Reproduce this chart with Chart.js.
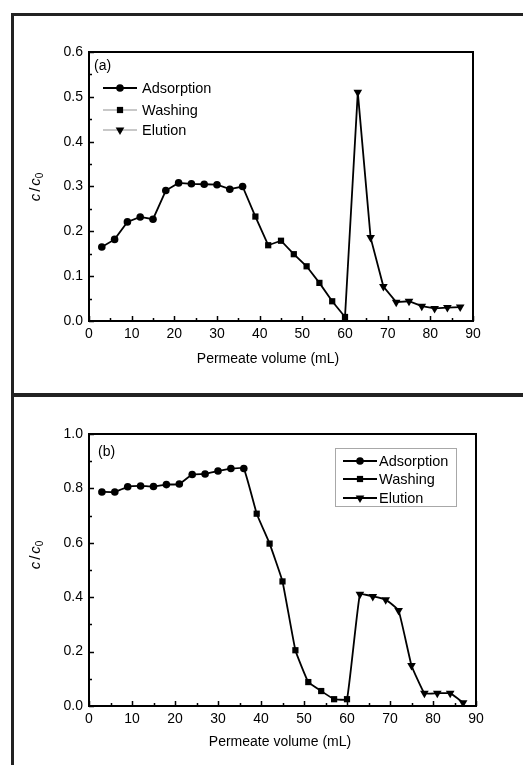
<!DOCTYPE html>
<html>
<head>
<meta charset="utf-8">
<script src="https://cdn.jsdelivr.net/npm/chart.js@4/dist/chart.umd.min.js"></script>
<style>
  body { margin: 0; background: #fff; }
  #page { position: relative; width: 523px; height: 765px; overflow: hidden; background: #fff; }
  canvas { position: absolute; left: 0; }
  .bd { position: absolute; background: #222; z-index: 2; }
</style>
</head>
<body>
<div id="page">
  <canvas id="chartA" width="523" height="393" style="top:0"></canvas>
  <canvas id="chartB" width="523" height="368" style="top:397px"></canvas>
  <div class="bd" style="left:11px;top:13px;width:3px;height:752px"></div>
  <div class="bd" style="left:11px;top:13px;width:512px;height:3px"></div>
  <div class="bd" style="left:11px;top:393px;width:512px;height:4px"></div>
</div>
<script>
// panel (a)
const adsXA = [3, 6, 9, 12, 15, 18, 21, 24, 27, 30, 33, 36];
const adsYA = [0.165, 0.182, 0.221, 0.232, 0.227, 0.291, 0.308, 0.306, 0.305, 0.304, 0.294, 0.300];
const washXA = [39, 42, 45, 48, 51, 54, 57, 60];
const washYA = [0.233, 0.169, 0.179, 0.149, 0.122, 0.085, 0.044, 0.009];
const eluXA = [63, 66, 69, 72, 75, 78, 81, 84, 87];
const eluYA = [0.510, 0.186, 0.077, 0.042, 0.044, 0.033, 0.028, 0.030, 0.031];

// panel (b)
const adsXB = [3, 6, 9, 12, 15, 18, 21, 24, 27, 30, 33, 36];
const adsYB = [0.787, 0.787, 0.806, 0.809, 0.807, 0.814, 0.816, 0.851, 0.853, 0.864, 0.873, 0.873];
const washXB = [39, 42, 45, 48, 51, 54, 57, 60];
const washYB = [0.707, 0.597, 0.458, 0.205, 0.088, 0.055, 0.025, 0.025];
const eluXB = [63, 66, 69, 72, 75, 78, 81, 84, 87];
const eluYB = [0.411, 0.403, 0.391, 0.351, 0.149, 0.047, 0.047, 0.047, 0.012];

const seriesNames = ['Adsorption', 'Washing', 'Elution'];
const xTicks = [0, 10, 20, 30, 40, 50, 60, 70, 80, 90];
const yTicksA = [0, 0.1, 0.2, 0.3, 0.4, 0.5, 0.6];
const yTicksB = [0, 0.2, 0.4, 0.6, 0.8, 1.0];

const FONT = '"Liberation Sans", Arial, sans-serif';
const markers = [
  {style: 'circle', r: 3.8, rot: 0},
  {style: 'rect', r: 4.4, rot: 0},
  {style: 'triangle', r: 5, rot: 180}
];

function buildData(xs, ys) {
  const pts = [], styles = [], radii = [], rots = [];
  xs.forEach((arr, k) => {
    arr.forEach((x, i) => {
      pts.push({x: x, y: ys[k][i]});
      styles.push(markers[k].style);
      radii.push(markers[k].r);
      rots.push(markers[k].rot);
    });
  });
  return {pts, styles, radii, rots};
}

function drawMarker(ctx, k, x, y) {
  const m = markers[k];
  ctx.beginPath();
  if (m.style === 'circle') {
    ctx.arc(x, y, m.r, 0, Math.PI * 2);
  } else if (m.style === 'rect') {
    const s = m.r * Math.SQRT1_2;
    ctx.rect(x - s, y - s, 2 * s, 2 * s);
  } else {
    const w = m.r * Math.sqrt(3) / 2;
    ctx.moveTo(x - w, y - m.r / 2);
    ctx.lineTo(x + w, y - m.r / 2);
    ctx.lineTo(x, y + m.r);
    ctx.closePath();
  }
  ctx.fill();
}

// frame, inward ticks, labels, titles and legend
const decor = {
  id: 'decor',
  afterDraw(chart, args, o) {
    const {ctx, chartArea: a, scales: {x, y}} = chart;
    ctx.save();
    ctx.strokeStyle = '#000';
    ctx.fillStyle = '#000';
    ctx.lineWidth = 1.5;
    ctx.beginPath();
    for (let v = 0; v <= 90; v += 5) {
      const px = Math.round(x.getPixelForValue(v)) + 0.5;
      const len = v % 10 === 0 ? 5 : 3;
      ctx.moveTo(px, a.bottom); ctx.lineTo(px, a.bottom - len);
    }
    const half = o.yStep / 2;
    for (let i = 0; i * half <= y.max + 1e-9; i++) {
      const py = Math.round(y.getPixelForValue(i * half)) + 0.5;
      const len = i % 2 === 0 ? 5 : 3;
      ctx.moveTo(a.left, py); ctx.lineTo(a.left + len, py);
    }
    ctx.stroke();
    ctx.lineWidth = 2;
    ctx.strokeRect(a.left, a.top, a.right - a.left, a.bottom - a.top);

    // panel label
    ctx.font = '14px ' + FONT;
    ctx.textBaseline = 'middle';
    ctx.textAlign = 'left';
    ctx.fillText(o.tag, o.tagX, o.tagY);

    // x title
    ctx.textAlign = 'center';
    ctx.font = '14px ' + FONT;
    ctx.fillText('Permeate volume (mL)', o.xtX, o.xtY);

    // y title c/c0
    ctx.save();
    ctx.translate(o.ytX, o.ytY);
    ctx.rotate(-Math.PI / 2);
    ctx.textAlign = 'left';
    const it = 'italic 15px ' + FONT, nf = '15px ' + FONT, sf = '10px ' + FONT;
    ctx.font = it; const wc = ctx.measureText('c').width;
    ctx.font = nf; const ws = ctx.measureText('/').width;
    ctx.font = sf; const w0 = ctx.measureText('0').width;
    const total = wc + 2 + ws + 2 + wc + w0;
    let cx = -total / 2;
    ctx.font = it; ctx.fillText('c', cx, 0); cx += wc + 2;
    ctx.font = nf; ctx.fillText('/', cx, 0); cx += ws + 2;
    ctx.font = it; ctx.fillText('c', cx, 0); cx += wc;
    ctx.font = sf; ctx.fillText('0', cx, 4);
    ctx.restore();

    // legend
    const L = o.legend;
    if (L.box) {
      ctx.lineWidth = 1;
      ctx.strokeStyle = '#a8a8a8';
      ctx.strokeRect(L.box[0] + 0.5, L.box[1] + 0.5, L.box[2], L.box[3]);
    }
    ctx.font = '14.5px ' + FONT;
    ctx.textAlign = 'left';
    seriesNames.forEach((name, k) => {
      const ry = L.rows[k];
      ctx.strokeStyle = L.lineColors[k];
      ctx.lineWidth = 1.8;
      ctx.beginPath();
      ctx.moveTo(L.x0, ry); ctx.lineTo(L.x1, ry);
      ctx.stroke();
      ctx.fillStyle = '#000';
      drawMarker(ctx, k, (L.x0 + L.x1) / 2, ry);
      ctx.fillText(name, L.tx, ry + 1);
    });
    ctx.restore();
  }
};

function makeChart(id, xs, ys, yMax, yTicks, tension, pad, xAxisH, deco) {
  const d = buildData(xs, ys);
  return new Chart(document.getElementById(id), {
    type: 'line',
    data: {
      datasets: [{
        data: d.pts,
        borderColor: '#000',
        backgroundColor: '#000',
        borderWidth: 1.8,
        pointStyle: d.styles,
        pointRadius: d.radii,
        pointRotation: d.rots,
        pointBorderWidth: 0,
        tension: tension
      }]
    },
    options: {
      responsive: false,
      animation: false,
      events: [],
      layout: {padding: pad},
      plugins: {legend: {display: false}, tooltip: {enabled: false}, decor: deco},
      scales: {
        x: {
          type: 'linear', min: 0, max: 90,
          afterBuildTicks: (s) => { s.ticks = xTicks.map(v => ({value: v})); },
          afterFit: (s) => { s.height = xAxisH; },
          grid: {display: false, drawTicks: false},
          border: {display: false},
          ticks: {color: '#000', padding: 5, font: {family: FONT, size: 14}, maxRotation: 0}
        },
        y: {
          min: 0, max: yMax,
          afterBuildTicks: (s) => { s.ticks = yTicks.map(v => ({value: v})); },
          afterFit: (s) => { s.width = 89; },
          grid: {display: false, drawTicks: false},
          border: {display: false},
          ticks: {color: '#000', padding: 6, font: {family: FONT, size: 14},
                  callback: (v) => Number(v).toFixed(1)}
        }
      }
    },
    plugins: [decor]
  });
}

makeChart('chartA', [adsXA, washXA, eluXA], [adsYA, washYA, eluYA], 0.6, yTicksA, 0,
  {left: 0, right: 50, top: 52, bottom: 0}, 72,
  {yStep: 0.1, tag: '(a)', tagX: 94, tagY: 66, xtX: 268, xtY: 359, ytX: 36, ytY: 187,
   legend: {x0: 103, x1: 137, tx: 142, rows: [88, 110, 130], box: null,
            lineColors: ['#000', '#c8c8c8', '#c8c8c8']}});

makeChart('chartB', [adsXB, washXB, eluXB], [adsYB, washYB, eluYB], 1.0, yTicksB, 0.1,
  {left: 0, right: 47, top: 37, bottom: 0}, 59,
  {yStep: 0.2, tag: '(b)', tagX: 98, tagY: 55, xtX: 280, xtY: 345, ytX: 36, ytY: 158,
   legend: {x0: 343, x1: 377, tx: 379, rows: [64, 82, 101], box: [335, 51, 121, 58],
            lineColors: ['#000', '#000', '#000']}});
</script>
</body>
</html>
